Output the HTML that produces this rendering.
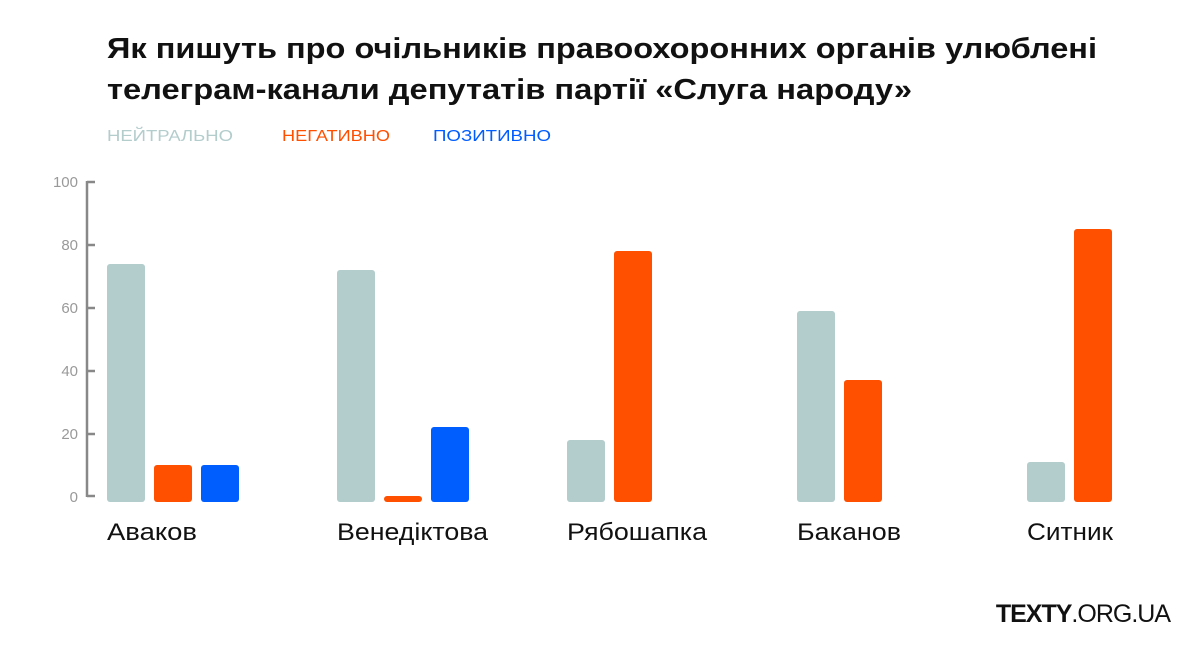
<!DOCTYPE html>
<html><head><meta charset="utf-8"><style>
body{margin:0;background:#fff;width:1200px;height:649px;overflow:hidden;font-family:"Liberation Sans","DejaVu Sans",sans-serif}
</style></head><body>
<svg width="1200" height="649" xmlns="http://www.w3.org/2000/svg" font-family="Liberation Sans, DejaVu Sans, sans-serif">
<text x="107" y="58" font-size="29" font-weight="bold" fill="#111" textLength="990" lengthAdjust="spacingAndGlyphs">Як пишуть про очільників правоохоронних органів улюблені</text>
<text x="107" y="99" font-size="29" font-weight="bold" fill="#111" textLength="805" lengthAdjust="spacingAndGlyphs">телеграм-канали депутатів партії «Слуга народу»</text>
<text x="107" y="141" font-size="16" fill="#b3cccc" textLength="126" lengthAdjust="spacingAndGlyphs">НЕЙТРАЛЬНО</text>
<text x="282" y="141" font-size="16" fill="#ff5000" textLength="108" lengthAdjust="spacingAndGlyphs">НЕГАТИВНО</text>
<text x="433" y="141" font-size="16" fill="#005eff" textLength="118" lengthAdjust="spacingAndGlyphs">ПОЗИТИВНО</text>
<g stroke="#888" stroke-width="2.5" fill="none">
<path d="M87 181V497"/>
<path d="M87 182h8M87 245h8M87 308h8M87 371h8M87 434h8M87 496h8"/>
</g>
<g font-size="15" fill="#999" text-anchor="end">
<text x="78" y="187">100</text><text x="78" y="250">80</text><text x="78" y="313">60</text><text x="78" y="376">40</text><text x="78" y="439">20</text><text x="78" y="502">0</text>
</g>
<g>
<rect x="107" y="264" width="38" height="238" rx="3" fill="#b3cccc"/>
<rect x="154" y="465" width="38" height="37" rx="3" fill="#ff5000"/>
<rect x="201" y="465" width="38" height="37" rx="3" fill="#005eff"/>
<rect x="337" y="270" width="38" height="232" rx="3" fill="#b3cccc"/>
<rect x="384" y="496" width="38" height="6" rx="3" fill="#ff5000"/>
<rect x="431" y="427" width="38" height="75" rx="3" fill="#005eff"/>
<rect x="567" y="440" width="38" height="62" rx="3" fill="#b3cccc"/>
<rect x="614" y="251" width="38" height="251" rx="3" fill="#ff5000"/>
<rect x="797" y="311" width="38" height="191" rx="3" fill="#b3cccc"/>
<rect x="844" y="380" width="38" height="122" rx="3" fill="#ff5000"/>
<rect x="1027" y="462" width="38" height="40" rx="3" fill="#b3cccc"/>
<rect x="1074" y="229" width="38" height="273" rx="3" fill="#ff5000"/>
</g>
<g font-size="24" fill="#111" lengthAdjust="spacingAndGlyphs">
<text x="107" y="540" textLength="90" lengthAdjust="spacingAndGlyphs">Аваков</text>
<text x="337" y="540" textLength="151" lengthAdjust="spacingAndGlyphs">Венедіктова</text>
<text x="567" y="540" textLength="140" lengthAdjust="spacingAndGlyphs">Рябошапка</text>
<text x="797" y="540" textLength="104" lengthAdjust="spacingAndGlyphs">Баканов</text>
<text x="1027" y="540" textLength="86" lengthAdjust="spacingAndGlyphs">Ситник</text>
</g>
<text x="1170" y="622" font-size="25" text-anchor="end" fill="#111" letter-spacing="-1"><tspan font-weight="bold">TEXTY</tspan>.ORG.UA</text>
</svg>
</body></html>
